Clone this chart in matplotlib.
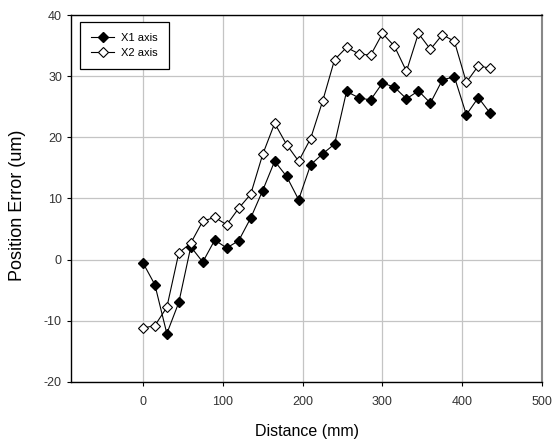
import numpy as np
import matplotlib.pyplot as plt

plt.rcParams['font.family'] = ['Liberation Sans', 'DejaVu Sans']
plt.rcParams['axes.unicode_minus'] = False

# distance along axis (mm)
distance = [0, 15, 30, 45, 60, 75, 90, 105, 120, 135, 150, 165, 180, 195, 210,
            225, 240, 255, 270, 285, 300, 315, 330, 345, 360, 375, 390, 405, 420, 435]
# position error (um)
x1_err = [-0.5, -4.1, -12.1, -7.0, 2.1, -0.4, 3.2, 1.9, 3.1, 6.8, 11.3, 16.1, 13.6, 9.8, 15.5,
          17.3, 18.9, 27.5, 26.5, 26.1, 28.9, 28.2, 26.3, 27.6, 25.6, 29.4, 29.9, 23.7, 26.5, 23.9]
x2_err = [-11.2, -10.8, -7.8, 1.1, 2.7, 6.3, 6.9, 5.7, 8.4, 10.7, 17.2, 22.3, 18.8, 16.1, 19.8,
          25.9, 32.7, 34.7, 33.7, 33.4, 37.0, 34.9, 30.8, 37.0, 34.4, 36.8, 35.7, 29.0, 31.7, 31.3]

fig = plt.figure(figsize=(5.59, 4.43), dpi=100)
ax = fig.add_axes([0.127, 0.138, 0.843, 0.828])

ax.plot(distance, x1_err, color='black', lw=0.8, marker='D', markersize=5.5,
        markerfacecolor='black', markeredgecolor='black', label='X1 axis', zorder=3)
ax.plot(distance, x2_err, color='black', lw=0.8, marker='D', markersize=5.5,
        markerfacecolor='white', markeredgecolor='black', markeredgewidth=0.8,
        label='X2 axis', zorder=3)

ax.set_xlim(-90, 500)
ax.set_ylim(-20, 40)
ax.set_xticks([0, 100, 200, 300, 400, 500])
ax.set_yticks([-20, -10, 0, 10, 20, 30, 40])
ax.grid(True, color='#c4c4c4', lw=0.9)
ax.set_axisbelow(True)

ax.tick_params(direction='out', length=3, width=0.8, labelsize=9, colors='black',
               labelcolor='#333333')
ax.tick_params(axis='x', pad=7.5)
ax.tick_params(axis='y', pad=3.5)
ax.spines['right'].set_color('#888888')
ax.spines['right'].set_linewidth(1.5)
for s in ['top', 'left', 'bottom']:
    ax.spines[s].set_linewidth(1.0)

ax.set_xlabel('Distance (mm)', fontsize=11.5, labelpad=11)
ax.set_ylabel('Position Error (um)', fontsize=13)
ax.yaxis.set_label_coords(-0.096, 0.48)

leg = ax.legend(loc='upper left', bbox_to_anchor=(0.019, 0.981), borderaxespad=0,
                fontsize=8, fancybox=False, edgecolor='black', framealpha=1,
                handlelength=2.1, borderpad=1.0, handletextpad=0.6, labelspacing=0.4)
leg.get_frame().set_linewidth(0.9)

plt.savefig('out.png', dpi=100)
